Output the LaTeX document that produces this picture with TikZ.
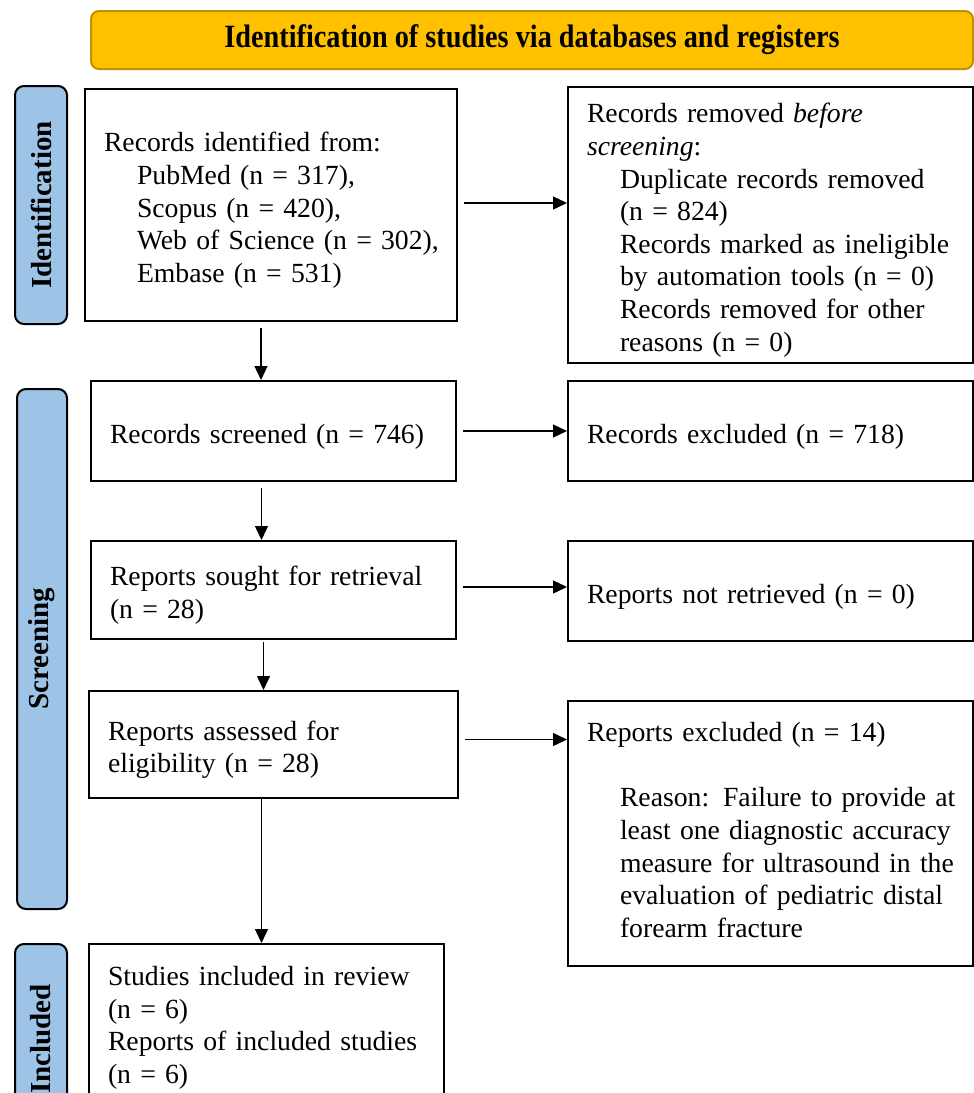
\documentclass[tikz,border=0pt]{standalone}
\usepackage{fontspec}
\setmainfont{Liberation Serif}
\newfontfamily\headfont[FakeStretch=0.87]{Liberation Serif}
\usepackage{tikz}
\usetikzlibrary{arrows.meta, positioning}

\definecolor{headfill}{HTML}{FFC000}
\definecolor{headline}{HTML}{C09000}
\definecolor{sidefill}{HTML}{9DC3E6}

\tikzset{
  box/.style={draw, line width=2pt, anchor=north west, align=left,
    inner xsep=19pt, font=\fontsize{27.7}{32.6}\selectfont,
    execute at begin node={\rule{0pt}{30pt}}},
  sidelabel/.style={draw, line width=2pt, fill=sidefill, rounded corners=9pt,
    anchor=north west, minimum width=52pt},
  sidetext/.style={rotate=90, font=\bfseries\fontsize{29}{30}\selectfont},
  arr/.style={line width=1.3pt, -{Triangle[length=14pt,width=13pt]}}
}

\begin{document}
\begin{tikzpicture}[x=1pt, y=-1pt]
                    \useasboundingbox (0,0) rectangle (974,1093);

                    % header
                    \node[draw=headline, line width=2pt, fill=headfill, rounded corners=8pt,
                          minimum width=882pt, minimum height=58pt, anchor=north west] (head) at (90,10)
                          {\headfont\bfseries\fontsize{32.5}{34}\selectfont Identification of studies via databases and registers};

                    % phase labels
                    \node[sidelabel, minimum height=238pt] (ph1) at (14,85) {};
                    \node[sidetext] at (ph1.center) {Identification};
                    \node[sidelabel, minimum height=520pt, minimum width=50pt] (ph2) at (16,388) {};
                    \node[sidetext] at (ph2.center) {Screening};
                    \node[sidelabel, minimum height=170pt] (ph3) at (14,943) {};
                    \node[sidetext] at ([yshift=-10pt]ph3.center) {Included};

                    % left column
                    \node[box, minimum width=372pt, minimum height=232pt, text width=334pt] (found) at (84,88)
                          {Records identified from:\\
                           \hspace*{33pt}PubMed (n = 317),\\
                           \hspace*{33pt}Scopus (n = 420),\\
                           \hspace*{33pt}\mbox{Web of Science (n = 302),}\\
                           \hspace*{33pt}Embase (n = 531)};
                    \node[box, minimum width=365pt, minimum height=100pt, text width=327pt] (screened) at (90,380)
                          {Records screened (n = 746)};
                    \node[box, minimum width=365pt, minimum height=98pt, text width=327pt] (sought) at (90,540)
                          {Reports sought for retrieval\\(n = 28)};
                    \node[box, minimum width=369pt, minimum height=107pt, text width=331pt] (assessed) at (88,690)
                          {Reports assessed for\\eligibility (n = 28)};
                    \node[box, minimum width=355pt, minimum height=157pt, text width=317pt] (included) at (88,943)
                          {Studies included in review\\(n = 6)\\Reports of included studies\\(n = 6)};

                    % right column
                    \node[box, minimum width=405pt, minimum height=276pt, text width=367pt] (removed) at (567,86)
                          {Records removed \textit{before}\\
                           \textit{screening}:\\
                           \hspace*{33pt}Duplicate records removed\\
                           \hspace*{33pt}(n = 824)\\
                           \hspace*{33pt}\mbox{Records marked as ineligible}\\
                           \hspace*{33pt}by automation tools (n = 0)\\
                           \hspace*{33pt}Records removed for other\\
                           \hspace*{33pt}reasons (n = 0)};
                    \node[box, minimum width=405pt, minimum height=100pt, text width=367pt] (excluded) at (567,380)
                          {Records excluded (n = 718)};
                    \node[box, minimum width=405pt, minimum height=100pt, text width=367pt] (notret) at (567,540)
                          {Reports not retrieved (n = 0)};
                    \node[box, minimum width=405pt, minimum height=265pt, text width=367pt] (repexcl) at (567,700)
                          {Reports excluded (n = 14)\\[32.6pt]
                           \hspace*{33pt}\mbox{Reason: Failure to provide at}\\
                           \hspace*{33pt}\mbox{least one diagnostic accuracy}\\
                           \hspace*{33pt}\mbox{measure for ultrasound in the}\\
                           \hspace*{33pt}evaluation of pediatric distal\\
                           \hspace*{33pt}forearm fracture\rule[-18pt]{0pt}{1pt}};

                    % arrows across
                    \draw[arr] ([xshift=6pt,yshift=2pt]found.east) -- ([yshift=2pt]found.east -| removed.west);
                    \draw[arr] ([xshift=6pt]screened.east) -- (screened.east -| excluded.west);
                    \draw[arr] ([xshift=6pt,yshift=3pt]sought.east) -- ([yshift=3pt]sought.east -| notret.west);
                    \draw[arr] ([xshift=6pt,yshift=5pt]assessed.east) -- ([yshift=5pt]assessed.east -| repexcl.west);

                    % arrows down
                    \draw[arr] ([xshift=-10pt,yshift=-6pt]found.south) -- ([xshift=-10pt]found.south |- screened.north);
                    \draw[arr] ([xshift=-12pt,yshift=-6pt]screened.south) -- ([xshift=-12pt]screened.south |- sought.north);
                    \draw[arr] ([xshift=-10pt,yshift=-2pt]sought.south) -- ([xshift=-10pt]sought.south |- assessed.north);
                    \draw[arr] ([xshift=-12pt]assessed.south) -- ([xshift=-12pt]assessed.south |- included.north);
                \end{tikzpicture}
\end{document}
